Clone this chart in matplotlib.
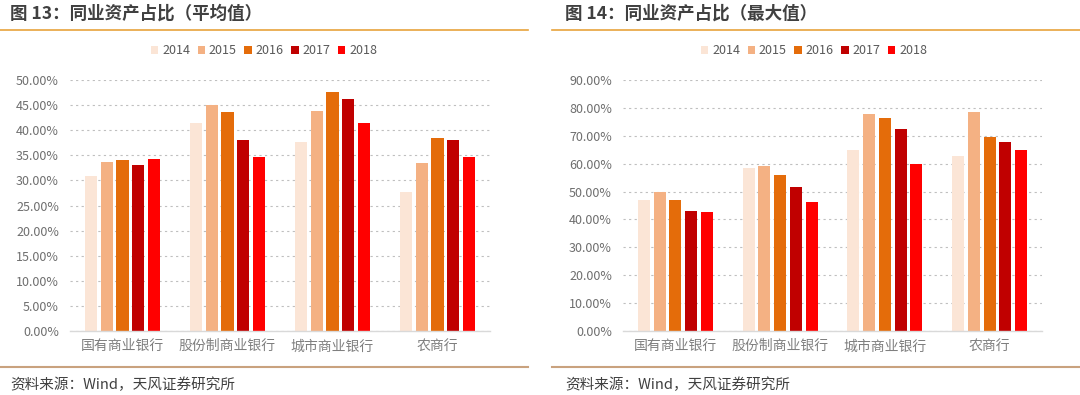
import numpy as np
import matplotlib.pyplot as plt
from matplotlib.ticker import FuncFormatter

plt.rcParams['font.family'] = ['Noto Sans CJK SC', 'DejaVu Sans']

categories = ["国有商业银行", "股份制商业银行", "城市商业银行", "农商行"]
years = ["2014", "2015", "2016", "2017", "2018"]
colors = ["#FBE5D6", "#F4B183", "#E46C0A", "#C00000", "#FF0000"]

# 平均值 (%)
avg_2014 = [30.9, 41.4, 37.7, 27.6]
avg_2015 = [33.6, 45.1, 43.9, 33.4]
avg_2016 = [34.0, 43.7, 47.6, 38.5]
avg_2017 = [33.1, 38.0, 46.3, 38.0]
avg_2018 = [34.2, 34.7, 41.5, 34.6]

# 最大值 (%)
max_2014 = [47.0, 58.6, 64.9, 62.7]
max_2015 = [49.8, 59.2, 77.9, 78.5]
max_2016 = [47.0, 56.0, 76.2, 69.7]
max_2017 = [43.2, 51.7, 72.6, 67.9]
max_2018 = [42.5, 46.3, 59.8, 64.8]

W, H = 1080, 395
fig = plt.figure(figsize=(W / 100, H / 100), dpi=100)
fig.patch.set_facecolor("white")


def px(x0, y0, x1, y1):
    # pixel box -> figure fraction
    return [x0 / W, 1 - y1 / H, (x1 - x0) / W, (y1 - y0) / H]


def panel(box, series, ymax, step, title, tx, lx0, lx1, legend_x):
    ax = fig.add_axes(px(*box))
    x = np.arange(len(categories))
    off = 0.15
    bw = 0.115
    for i, (vals, yr, c) in enumerate(zip(series, years, colors)):
        ax.bar(x + (i - 2) * off, vals, bw, color=c, label=yr, zorder=3)
    ax.set_xlim(-0.5, len(categories) - 0.5)
    ax.set_ylim(0, ymax)
    ax.set_yticks(np.arange(0, ymax + 0.01, step))
    ax.yaxis.set_major_formatter(FuncFormatter(lambda v, p: "%.2f%%" % v))
    ax.set_xticks(x)
    ax.set_xticklabels(categories, fontsize=10, color="#7F7F7F")
    ax.tick_params(axis="y", labelsize=9, colors="#6E6E6E", length=0, pad=8)
    ax.tick_params(axis="x", length=0, pad=6)
    ax.grid(axis="y", linestyle=(0, (2, 3)), color="#BFBFBF", linewidth=0.8, zorder=0)
    for s in ["top", "right", "left"]:
        ax.spines[s].set_visible(False)
    ax.spines["bottom"].set_color("#D9D9D9")
    ax.spines["bottom"].set_linewidth(1.0)
    ax.spines["bottom"].set_zorder(4)
    leg = fig.legend(loc="center", bbox_to_anchor=(legend_x / W, 1 - 51 / H), ncol=5,
                     frameon=False, fontsize=9, handlelength=0.6, handleheight=0.6,
                     handletextpad=0.3, columnspacing=0.6,
                     handles=ax.get_legend_handles_labels()[0], labels=years)
    for t in leg.get_texts():
        t.set_color("#595959")
    fig.text(tx / W, 1 - 14 / H, title, fontsize=12.6, fontweight="bold",
             color="#404040", va="center", ha="left")
    fig.add_artist(plt.Line2D([lx0 / W, lx1 / W], [1 - 30 / H, 1 - 30 / H],
                              color="#E8A33C", linewidth=1.2))
    fig.add_artist(plt.Line2D([lx0 / W, lx1 / W], [1 - 367 / H, 1 - 367 / H],
                              color="#C9A27E", linewidth=1.5))
    fig.text(tx / W, 1 - 385 / H, "资料来源：Wind，天风证券研究所", fontsize=10.5,
             color="#404040", va="center", ha="left")


panel((70, 80, 490, 331), [avg_2014, avg_2015, avg_2016, avg_2017, avg_2018],
      50, 5, "图 13：同业资产占比（平均值）", 10, 0, 528, 264)
panel((623, 80, 1042, 331), [max_2014, max_2015, max_2016, max_2017, max_2018],
      90, 10, "图 14：同业资产占比（最大值）", 565, 552, 1080, 814)

fig.savefig("out.png", dpi=100, facecolor="white")
